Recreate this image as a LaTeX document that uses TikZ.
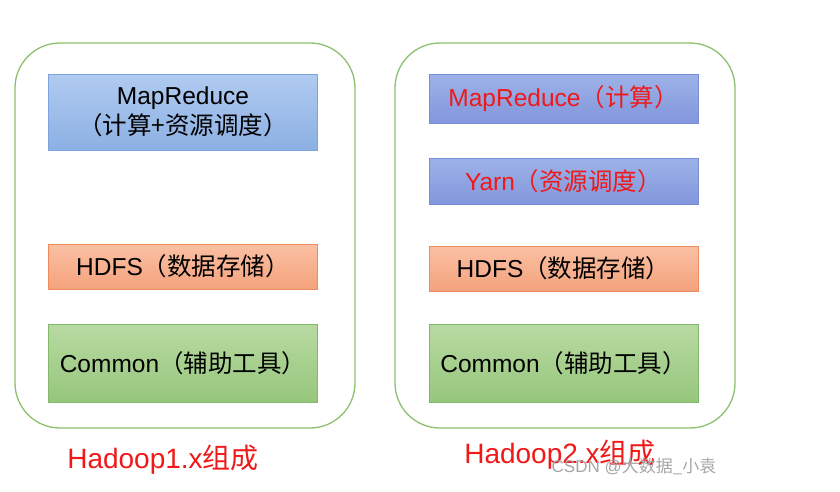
\documentclass[tikz,border=0pt]{standalone}
\usepackage{fontspec}
\setmainfont{Liberation Sans}
\newfontfamily\cjk{Noto Sans CJK SC}
\usetikzlibrary{positioning}
\definecolor{frameGreen}{HTML}{8DC06F}
\definecolor{hadoopRed}{HTML}{F01818}
\definecolor{blueTop}{HTML}{B0CBF0}
\definecolor{blueBot}{HTML}{8CB0E4}
\definecolor{blueLine}{HTML}{7DA4DD}
\definecolor{purpleTop}{HTML}{9EB2E8}
\definecolor{purpleBot}{HTML}{8296DC}
\definecolor{purpleLine}{HTML}{788ED6}
\definecolor{orangeTop}{HTML}{FAC0A3}
\definecolor{orangeBot}{HTML}{F4A27C}
\definecolor{orangeLine}{HTML}{EE8C5E}
\definecolor{greenTop}{HTML}{B8DAA2}
\definecolor{greenBot}{HTML}{96C67C}
\definecolor{greenLine}{HTML}{84B86A}
\tikzset{
    frame/.style={
        draw=frameGreen, line width=1.3pt, rounded corners=45pt,
        minimum width=340pt, minimum height=385pt
    },
    layer/.style={
        draw, line width=0.8pt, inner sep=0pt, outer sep=0pt,
        minimum width=269pt, align=center,
        font=\fontsize{24.5pt}{30pt}\selectfont
    },
    bluebox/.style={layer, top color=blueTop, bottom color=blueBot, draw=blueLine},
    purplebox/.style={layer, top color=purpleTop, bottom color=purpleBot, draw=purpleLine},
    orangebox/.style={layer, top color=orangeTop, bottom color=orangeBot, draw=orangeLine},
    greenbox/.style={layer, top color=greenTop, bottom color=greenBot, draw=greenLine},
    title/.style={text=hadoopRed, inner sep=0pt, font=\fontsize{28pt}{32pt}\selectfont},
    wmtext/.style={text=black!35, inner sep=0pt, font=\fontsize{17pt}{20pt}\selectfont}
}

\begin{document}
\begin{tikzpicture}[x=1pt,y=-1pt]
\useasboundingbox (0,0) rectangle (840,491);

% 外框
\node[frame] (f1) at (185,235.5) {};
\node[frame] (f2) at (565,235.5) {};

% Hadoop1.x
\node[bluebox, minimum height=76pt] (mr1) at (183,112) {MapReduce\\\cjk（计算+资源调度）};
\node[orangebox, minimum height=45pt] (hdfs1) [below=94pt of mr1] {HDFS{\cjk（数据存储）}};
\node[greenbox, minimum height=78pt] (common1) [below=35pt of hdfs1] {Common{\cjk（辅助工具）}};

% Hadoop2.x
\node[purplebox, minimum height=49pt, text=hadoopRed] (mr2) at (563.5,98.5) {MapReduce{\cjk（计算）}};
\node[purplebox, minimum height=46pt, text=hadoopRed] (yarn2) [below=35pt of mr2] {Yarn{\cjk（资源调度）}};
\node[orangebox, minimum height=45pt] (hdfs2) [below=42pt of yarn2] {HDFS{\cjk（数据存储）}};
\node[greenbox, minimum height=78pt] (common2) [below=33pt of hdfs2] {Common{\cjk（辅助工具）}};

% 标题
\node[title] (t1) at (163,460) {Hadoop1.x{\cjk 组成}};
\node[title] (t2) at (560,455) {Hadoop2.x{\cjk 组成}};
\node[wmtext] (wm) at (634,467) {CSDN @{\cjk 大数据\_小袁}};
\end{tikzpicture}
\end{document}
